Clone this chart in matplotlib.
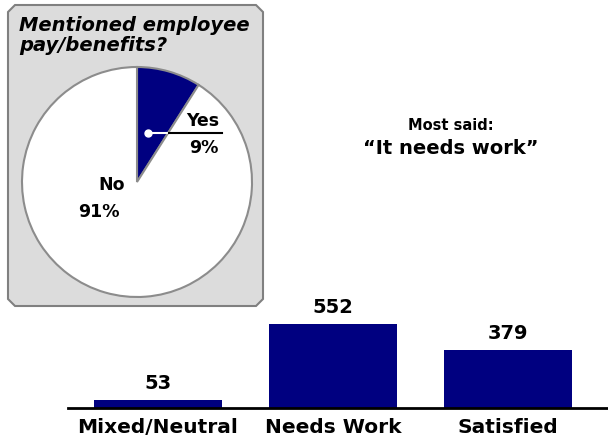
import matplotlib
matplotlib.use("Agg")
import matplotlib.pyplot as plt
from matplotlib.patches import Polygon

plt.rcParams['font.family'] = ['DejaVu Sans']

# bar data
categories = ["Mixed/Neutral", "Needs Work", "Satisfied"]
counts = [53, 552, 379]

# pie data
pie_labels = ["Yes", "No"]
pie_shares = [9, 91]

NAVY = "#000080"
W, H = 608, 444

fig = plt.figure(figsize=(W / 100, H / 100), dpi=100)

# full-figure overlay in pixel coords (y up)
bg = fig.add_axes([0, 0, 1, 1])
bg.axis("off")

def py(y):
    return H - y

# gray panel with cut corners
c = 7
x0, x1, y0, y1 = 8, 263, 5, 306
pts = [(x0 + c, y0), (x1 - c, y0), (x1, y0 + c), (x1, y1 - c), (x1 - c, y1),
       (x0 + c, y1), (x0, y1 - c), (x0, y0 + c)]
bg.add_patch(Polygon([(x, py(y)) for x, y in pts], closed=True,
                     facecolor="#dcdcdc", edgecolor="#808080", lw=1.5))

wedges, _ = bg.pie(pie_shares, colors=[NAVY, "white"], startangle=90,
                   counterclock=False, center=(137, py(182)), radius=115,
                   frame=True,
                   wedgeprops=dict(edgecolor="#8c8c8c", linewidth=1.5))
bg.set_xlim(0, W)
bg.set_ylim(0, H)
bg.set_aspect("auto")
bg.axis("off")

bg.text(19, py(26), "Mentioned employee", fontsize=14, fontweight="bold",
        fontstyle="italic", va="center", ha="left")
bg.text(19, py(46), "pay/benefits?", fontsize=14, fontweight="bold",
        fontstyle="italic", va="center", ha="left")

# Yes callout
bg.plot([148, 169], [py(133), py(133)], color="white", lw=1.5)
bg.plot([169, 222], [py(133), py(133)], color="black", lw=1.5)
bg.plot([148], [py(133)], marker="o", ms=5, color="white")
bg.text(203, py(121), pie_labels[0], fontsize=12.5, fontweight="bold",
        ha="center", va="center")
bg.text(204, py(148), f"{pie_shares[0]}%", fontsize=12.5, fontweight="bold",
        ha="center", va="center")
bg.text(112, py(185), pie_labels[1], fontsize=12.5, fontweight="bold",
        ha="center", va="center")
bg.text(99, py(212), f"{pie_shares[1]}%", fontsize=12.5, fontweight="bold",
        ha="center", va="center")

bg.text(451, py(125), "Most said:", fontsize=10.5, fontweight="bold",
        ha="center", va="center")
bg.text(451, py(148), "\u201cIt needs work\u201d", fontsize=14, fontweight="bold",
        ha="center", va="center")

# bar chart
ax = fig.add_axes([68 / W, (H - 408) / H, 540 / W, 118 / H])
xs = range(len(categories))
ax.bar(xs, counts, width=0.73, color=NAVY)
ax.set_xlim(-0.514, 2.571)
ax.set_ylim(0, 775)
for s in ["top", "right", "left"]:
    ax.spines[s].set_visible(False)
ax.spines["bottom"].set_linewidth(2)
ax.set_yticks([])
ax.set_xticks(list(xs))
ax.set_xticklabels(categories, fontsize=14.5, fontweight="bold")
ax.tick_params(axis="x", length=0, pad=7)
for x, v in zip(xs, counts):
    ax.text(x, v + 45, str(v), fontsize=14, fontweight="bold",
            ha="center", va="bottom")
ax.patch.set_alpha(0)

fig.savefig("out.png", dpi=100)
